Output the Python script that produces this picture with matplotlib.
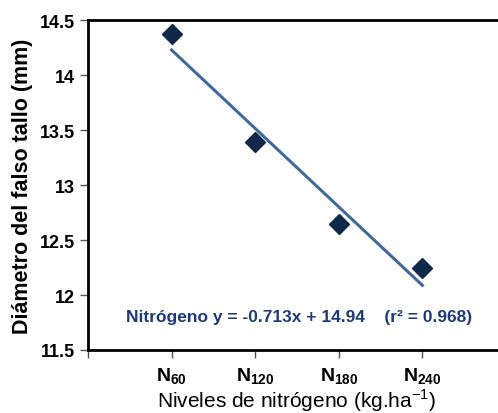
import matplotlib
matplotlib.use('Agg')
import matplotlib.pyplot as plt
import numpy as np

plt.rcParams['font.family'] = ['Liberation Sans', 'DejaVu Sans']
plt.rcParams['mathtext.fontset'] = 'custom'
plt.rcParams['mathtext.rm'] = 'Liberation Sans'
plt.rcParams['mathtext.bf'] = 'Liberation Sans:bold'

# datos
niveles = ['60', '120', '180', '240']
diametro = [14.37, 13.39, 12.645, 12.245]
pendiente = -0.713
intercepto = 14.94
r2 = 0.968

x = np.arange(1, len(niveles) + 1)

fig = plt.figure(figsize=(4.98, 4.14), dpi=100)
ax = fig.add_axes([88 / 498, 63 / 414, 418 / 498, 330 / 414])

ax.plot(x, pendiente * x + intercepto, color='#41699a', lw=2.2, zorder=2)
ax.plot(x, diametro, linestyle='none', marker='D', markersize=10,
        color='#10294a', zorder=3)

ax.set_xlim(0, 5)
ax.set_ylim(11.5, 14.5)
ax.set_yticks([11.5, 12, 12.5, 13, 13.5, 14, 14.5])
ax.set_yticklabels(['11.5', '12', '12.5', '13', '13.5', '14', '14.5'],
                   fontsize=13, fontweight='bold')
ax.set_xticks(range(0, 6))
ax.set_xticklabels([''] + [r'$\mathbf{N_{%s}}$' % n for n in niveles] + [''],
                   fontsize=14)
ax.tick_params(axis='both', direction='out', length=6, width=1, color='#555555')
ax.tick_params(axis='x', pad=5)
for s in ax.spines.values():
    s.set_linewidth(2)
ax.spines['right'].set_visible(False)

ax.set_ylabel('Diámetro del falso tallo (mm)', fontsize=15.5, fontweight='bold',
              labelpad=5)
ax.set_xlabel('Niveles de nitrógeno (kg.ha$^{\\mathregular{-1}}$)', fontsize=15,
              labelpad=1)

ax.text(2.52, 11.8, 'Nitrógeno y = -0.713x + 14.94    (r² = 0.968)',
        ha='center', va='center', fontsize=12.5, fontweight='bold',
        color='#1f3a78')

fig.savefig('out.png', dpi=100)
